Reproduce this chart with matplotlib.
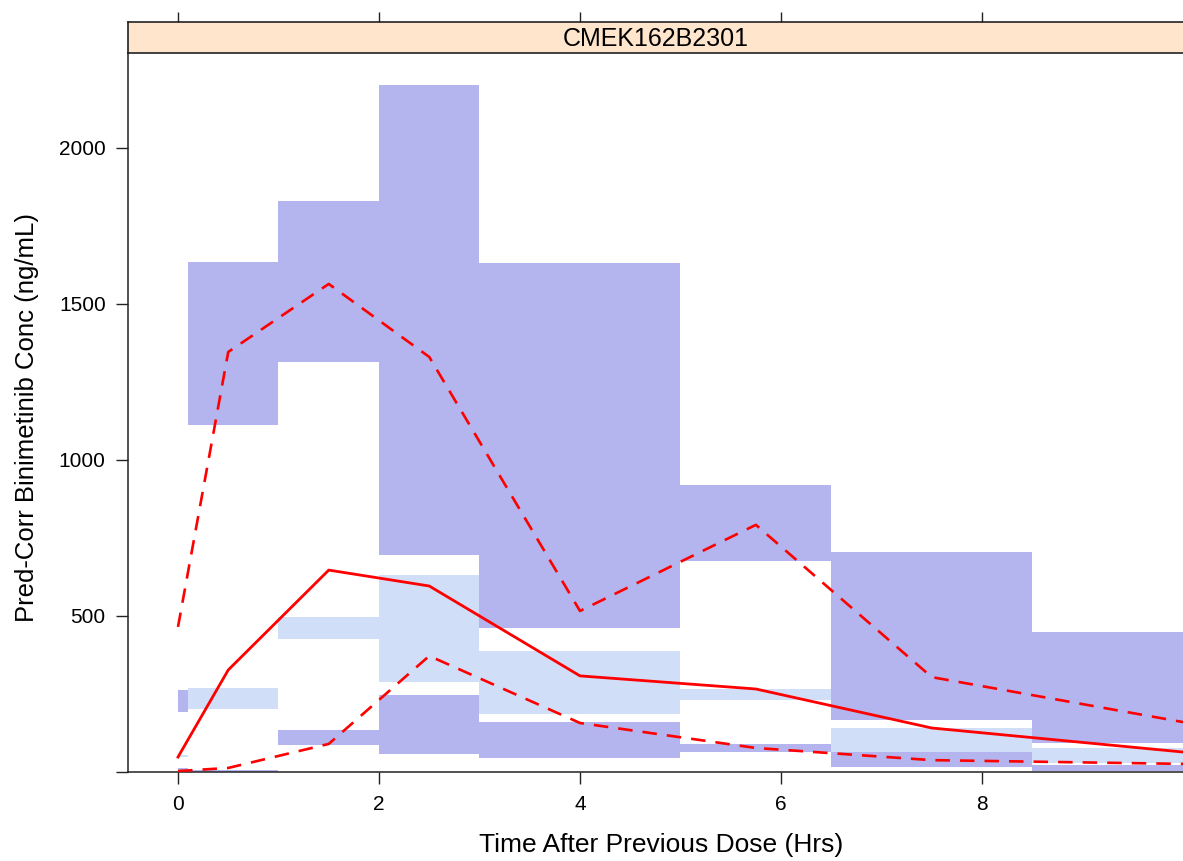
import matplotlib
matplotlib.use("Agg")
import matplotlib.pyplot as plt
import numpy as np

plt.rcParams['font.family'] = ['Liberation Sans', 'DejaVu Sans']

# Time bins (hours after previous dose)
bin_lo = [0.0, 0.1, 1.0, 2.0, 3.0, 5.0, 6.5, 8.5]
bin_hi = [0.1, 1.0, 2.0, 3.0, 5.0, 6.5, 8.5, 12.0]

# Simulated prediction intervals: CI of the upper percentile
upper_ci_lo = [192, 1112, 1314, 696, 462, 677, 167, 93]
upper_ci_hi = [263, 1635, 1830, 2202, 1631, 921, 705, 449]

# CI of the simulated median
median_ci_lo = [47, 202, 426, 288, 186, 231, 64, 29]
median_ci_hi = [55, 269, 497, 631, 388, 266, 141, 77]

# CI of the lower percentile
lower_ci_lo = [0, 0, 87, 58, 45, 64, 16, 3]
lower_ci_hi = [13, 8, 135, 247, 160, 90, 64, 22]

# Observed prediction-corrected percentiles
obs_time = [0.0, 0.5, 1.5, 2.5, 4.0, 5.75, 7.5, 10.0]
obs_median = [48, 327, 647, 596, 308, 266, 141, 64]
obs_p95 = [465, 1346, 1564, 1330, 516, 792, 304, 160]
obs_p05 = [3, 13, 90, 372, 157, 77, 38, 26]

panel_title = "CMEK162B2301"
x_ticks = [0, 2, 4, 6, 8]
y_ticks = [0, 500, 1000, 1500, 2000]
y_ticklabels = ["", "500", "1000", "1500", "2000"]

DARK = "#b4b4ee"
LIGHT = "#d1def8"
RED = "#ff0000"
STRIP = "#ffe5cc"

W, H = 1183, 861
fig = plt.figure(figsize=(W / 100, H / 100), dpi=100)

def px_rect(left, top, right, bottom):
    return [left / W, 1 - bottom / H, (right - left) / W, (bottom - top) / H]

ax = fig.add_axes(px_rect(128, 53, 1183, 772))
strip = fig.add_axes(px_rect(128, 22, 1183, 53))

widths = np.array(bin_hi) - np.array(bin_lo)

def bands(lo, hi, color):
    ax.bar(bin_lo, np.array(hi) - np.array(lo), width=widths, bottom=lo,
           align="edge", color=color, edgecolor="none", linewidth=0, zorder=1)

bands(upper_ci_lo, upper_ci_hi, DARK)
bands(lower_ci_lo, lower_ci_hi, DARK)
bands(median_ci_lo, median_ci_hi, LIGHT)

ax.plot(obs_time, obs_median, color=RED, lw=2.0, zorder=3)
for series in (obs_p95, obs_p05):
    ax.plot(obs_time, series, color=RED, lw=1.9, dashes=(5.5, 3.8), zorder=3)

ax.set_xlim(-0.4975, 10.0)
ax.set_ylim(0, 2304)
ax.set_xticks(x_ticks)
ax.set_yticks(y_ticks)
ax.set_yticklabels(y_ticklabels)
ax.tick_params(axis="both", direction="out", length=8.6, width=1.0,
               labelsize=15, color="#222222")
ax.tick_params(axis="x", pad=8)
ax.tick_params(axis="y", pad=7.5)
ax.spines["right"].set_visible(False)
ax.spines["top"].set_visible(False)
for s in ("left", "bottom"):
    ax.spines[s].set_linewidth(1.1)
    ax.spines[s].set_color("#222222")

# Strip with panel label and top tick marks
strip.set_facecolor(STRIP)
strip.set_xlim(ax.get_xlim())
strip.set_ylim(0, 1)
strip.set_xticks(x_ticks)
strip.set_yticks([])
strip.xaxis.tick_top()
strip.tick_params(axis="x", direction="out", length=7.2, width=1.0,
                  labeltop=False, labelbottom=False, color="#222222")
strip.spines["right"].set_visible(False)
for s in ("left", "top", "bottom"):
    strip.spines[s].set_linewidth(1.2)
    strip.spines[s].set_color("#222222")
strip.text(0.5, 0.45, panel_title, transform=strip.transAxes,
           ha="center", va="center", fontsize=18)

fig.text(661 / W, 1 - 845 / H, "Time After Previous Dose (Hrs)",
         ha="center", va="center", fontsize=19)
fig.text(27 / W, 1 - 418 / H, "Pred-Corr Binimetinib Conc (ng/mL)",
         ha="center", va="center", rotation=90, fontsize=18.5)

fig.savefig("out.png", dpi=100)
